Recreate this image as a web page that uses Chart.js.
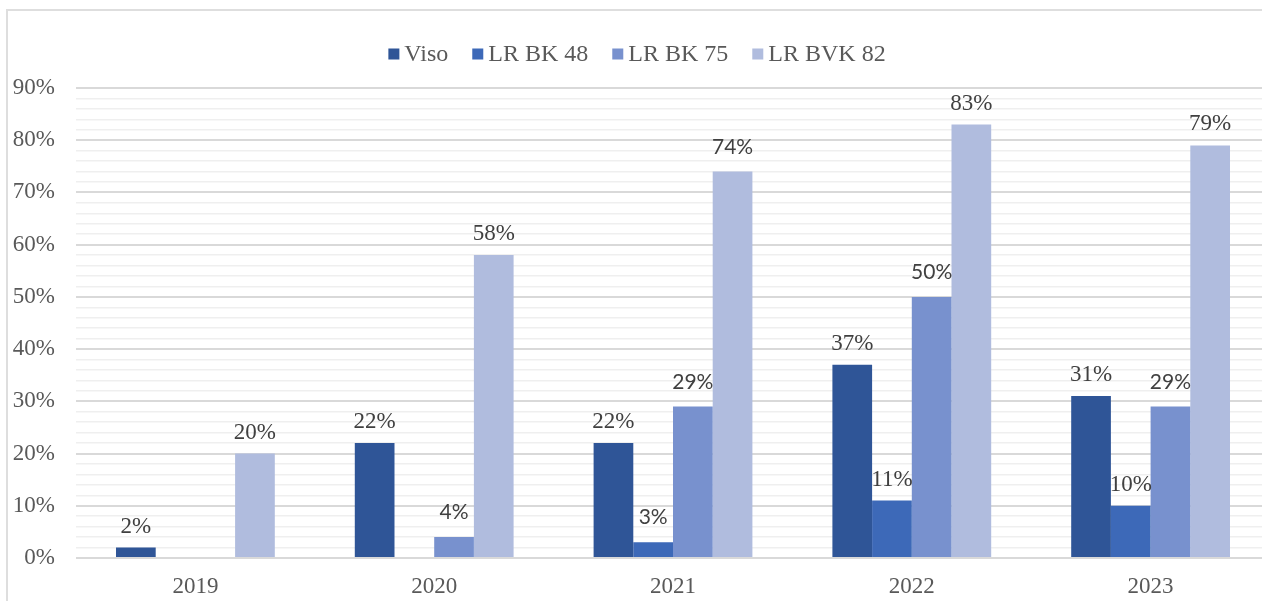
<!DOCTYPE html>
<html>
<head>
<meta charset="utf-8">
<script src="https://cdn.jsdelivr.net/npm/chart.js@4.4.1/dist/chart.umd.min.js"></script>
<style>
  html, body { margin: 0; padding: 0; background: #ffffff; overflow: hidden; width: 1262px; height: 601px; }
  #frame { position: absolute; left: 6px; top: 9px; width: 1400px; height: 700px; border: 2px solid #dedede; box-sizing: border-box; }
  #wrap { position: absolute; left: 0; top: 0; width: 1270px; height: 601px; }
</style>
</head>
<body>
<div id="frame"></div>
<div id="wrap"><canvas id="c"></canvas></div>
<script>
const categories = ['2019', '2020', '2021', '2022', '2023'];
const seriesNames = ['Viso', 'LR BK 48', 'LR BK 75', 'LR BVK 82'];
const viso = [2, 22, 22, 37, 31];
const lrBk48 = [null, null, 3, 11, 10];
const lrBk75 = [null, 4, 29, 50, 29];
const lrBvk82 = [20, 58, 74, 83, 79];
const yTickValues = [0, 10, 20, 30, 40, 50, 60, 70, 80, 90];

const colors = ['#2F5597', '#3D69B8', '#7891CE', '#B0BCDE'];
const SERIF = '"Liberation Serif", "Times New Roman", serif';
const SANS = 'Lato, "Liberation Sans", sans-serif';
// which value labels appear in a sans face in the reference (dataset index -> category indexes)
const sansLabels = { 1: [2], 2: [1, 2, 3, 4], 3: [2] };

const valueLabels = {
  id: 'valueLabels',
  afterDatasetsDraw(chart) {
    const ctx = chart.ctx;
    ctx.save();
    ctx.fillStyle = '#404040';
    ctx.textAlign = 'center';
    ctx.textBaseline = 'alphabetic';
    chart.data.datasets.forEach((ds, di) => {
      const meta = chart.getDatasetMeta(di);
      meta.data.forEach((bar, i) => {
        const v = ds.data[i];
        if (v === null || v === undefined) return;
        const sans = (sansLabels[di] || []).includes(i);
        ctx.font = sans ? '21px ' + SANS : '23px ' + SERIF;
        ctx.fillText(v + '%', bar.x, bar.y - (sans ? 18 : 15));
      });
    });
    ctx.restore();
  }
};

const customLegend = {
  id: 'customLegend',
  afterDraw(chart) {
    const ctx = chart.ctx;
    ctx.save();
    ctx.font = '24px ' + SERIF;
    ctx.textBaseline = 'middle';
    ctx.textAlign = 'left';
    const box = 11, gapText = 5, gapItem = 24;
    const items = chart.data.datasets.map(ds => ({ label: ds.label, color: ds.backgroundColor, w: ctx.measureText(ds.label).width }));
    let total = items.reduce((s, it) => s + box + gapText + it.w, 0) + gapItem * (items.length - 1);
    let x = 637 - total / 2;
    const y = 54;
    items.forEach(it => {
      ctx.fillStyle = it.color;
      ctx.fillRect(x, y - box / 2, box, box);
      ctx.fillStyle = '#595959';
      ctx.fillText(it.label, x + box + gapText, y + 1);
      x += box + gapText + it.w + gapItem;
    });
    ctx.restore();
  }
};

const seriesData = [viso, lrBk48, lrBk75, lrBvk82];

new Chart(document.getElementById('c'), {
  type: 'bar',
  data: {
    labels: categories,
    datasets: seriesNames.map((name, i) => ({
      label: name,
      data: seriesData[i],
      backgroundColor: colors[i],
      borderWidth: 0,
      categoryPercentage: 0.665,
      barPercentage: 1.0
    }))
  },
  options: {
    responsive: true,
    maintainAspectRatio: false,
    animation: false,
    devicePixelRatio: 1,
    layout: { padding: { top: 88, left: 0, right: 0, bottom: 0 } },
    plugins: {
      legend: { display: false },
      tooltip: { enabled: false }
    },
    scales: {
      x: {
        grid: { display: false, drawTicks: false },
        border: { display: false },
        ticks: { color: '#595959', font: { family: SERIF, size: 23 }, padding: 15 },
        afterFit(scale) { scale.height = 43; }
      },
      y: {
        min: 0,
        max: 90,
        ticks: {
          stepSize: 2,
          autoSkip: false,
          color: '#595959',
          font: { family: SERIF, size: 23 },
          padding: 21,
          callback: (v) => yTickValues.includes(v) ? v + '%' : ''
        },
        grid: {
          drawTicks: false,
          color: (c) => (c.tick && yTickValues.includes(c.tick.value)) ? '#d9d9d9' : '#efefef',
          lineWidth: (c) => (c.tick && yTickValues.includes(c.tick.value)) ? 2 : 1.5
        },
        border: { display: false },
        afterFit(scale) { scale.width = 76; }
      }
    }
  },
  plugins: [valueLabels, customLegend]
});
</script>
</body>
</html>
